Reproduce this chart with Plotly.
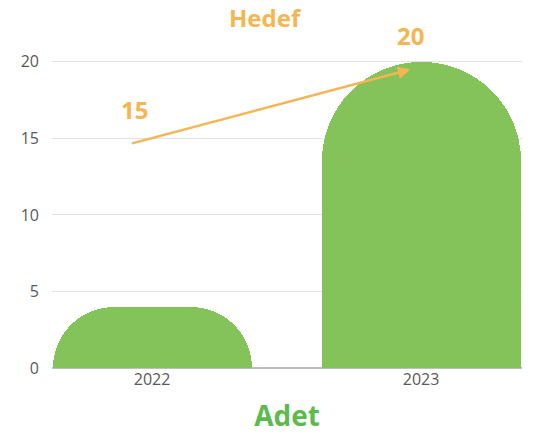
import plotly.graph_objects as go

years = ["2022", "2023"]
adet = [4, 20]
hedef = [15, 20]
y_ticks = [0, 5, 10, 15, 20]

x_pos = list(range(len(years)))
bar_color = "#84C25A"
orange = "#F5B553"

fig = go.Figure()
fig.add_trace(go.Bar(
    x=x_pos, y=adet, width=0.74,
    marker=dict(color=bar_color, cornerradius="50%", line=dict(width=0)),
    showlegend=False, hoverinfo="skip",
))

# target arrow and labels
fig.add_annotation(
    x=x_pos[1] - 0.04, y=hedef[1] - 0.5, xref="x", yref="y",
    ax=x_pos[0] - 0.08, ay=hedef[0] - 0.35, axref="x", ayref="y",
    showarrow=True, arrowhead=2, arrowsize=1, arrowwidth=2.5, arrowcolor=orange,
    text="",
)
for xi, v, dx, dy in zip(x_pos, hedef, [-0.067, -0.041], [29, 26]):
    fig.add_annotation(
        x=xi + dx, y=v, yshift=dy, xref="x", yref="y",
        text=f"<b>{v}</b>", showarrow=False,
        font=dict(size=24, color=orange, family="Open Sans"),
    )

# chart title
fig.add_annotation(
    x=0.455, y=1.0, xref="paper", yref="paper", yshift=28,
    text="<b>Hedef</b>", showarrow=False, xanchor="center", yanchor="middle",
    font=dict(size=24, color=orange, family="Open Sans"),
)

fig.update_layout(
    width=536, height=439,
    margin=dict(l=52, r=14, t=45, b=71),
    paper_bgcolor="white", plot_bgcolor="white",
    font=dict(family="Open Sans", color="#595959", size=16),
    xaxis=dict(
        range=[-0.372, 1.375], tickvals=x_pos, ticktext=years,
        showgrid=False, zeroline=False, showline=False, ticks="",
        tickfont=dict(size=16, color="#595959"),
        title=dict(text="<b>Adet</b>", font=dict(size=28, color="#5CBB4C", family="Open Sans"), standoff=17),
    ),
    yaxis=dict(
        range=[0, 21.1], tickvals=y_ticks,
        showgrid=True, gridcolor="#E3E3E3", gridwidth=1,
        zeroline=True, zerolinecolor="#BFBFBF", zerolinewidth=2,
        showline=False, ticks="", ticklabelstandoff=12,
        tickfont=dict(size=16, color="#595959"),
    ),
    bargap=0,
)

fig.write_html(
    "out.html",
    config={"displayModeBar": False},
    post_script="document.body.style.margin='0';document.body.style.overflow='hidden';",
)
